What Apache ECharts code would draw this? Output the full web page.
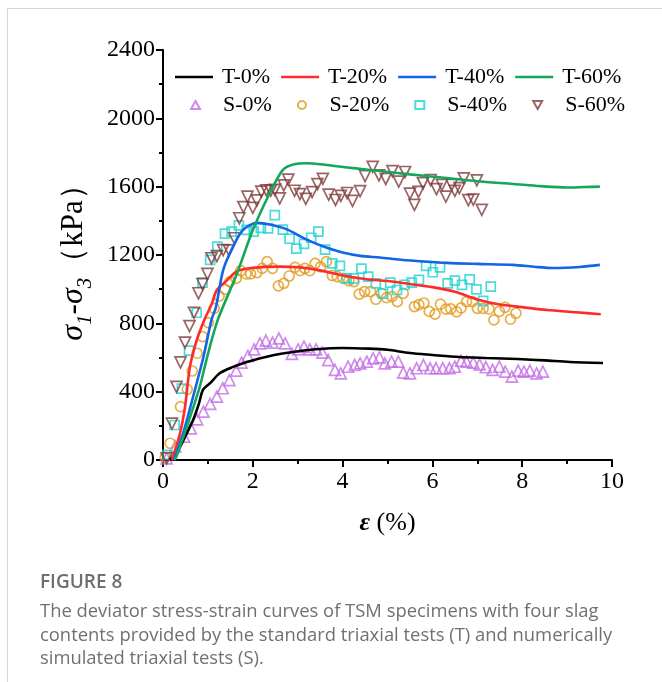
<!DOCTYPE html>
<html><head><meta charset="utf-8">
<script src="https://cdn.jsdelivr.net/npm/echarts@6/dist/echarts.min.js"></script>
<style>
html,body{margin:0;padding:0;background:#fff;width:662px;height:682px;overflow:hidden;}
#card{position:absolute;left:7px;top:8px;width:670px;height:700px;border-top:1.5px solid #d6d6d6;border-left:1.5px solid #d6d6d6;}
#chart{position:absolute;left:0;top:0;width:662px;height:682px;}
#fig{position:absolute;left:40px;top:568px;font-family:'Open Sans';font-weight:600;font-size:19px;color:#6e6e6e;}
#cap{position:absolute;left:40px;top:598px;width:640px;white-space:nowrap;font-family:'Open Sans';font-size:18.4px;line-height:23.7px;color:#707070;}
</style></head>
<body>
<div id="card"></div>
<div id="chart"></div>
<div id="fig">FIGURE 8</div>
<div id="cap">The deviator stress-strain curves of TSM specimens with four slag<br>contents provided by the standard triaxial tests (T) and numerically<br>simulated triaxial tests (S).</div>
<script>
// ---- data (strain %, deviator stress kPa) ----
const xTicks = [0, 2, 4, 6, 8, 10];
const yTicks = [0, 400, 800, 1200, 1600, 2000, 2400];

const t0x = [0.15,0.3,0.5,0.67,0.8,0.89,1.05,1.27,1.56,1.87,2.38,2.9,3.4,4.0,4.6,5.0,5.5,6.0,6.6,7.2,7.9,8.5,9.06,9.8];
const t0y = [0,40,140,234,330,410,450,509,545,574,609,632,648,656,652,645,626,615,603,597,591,583,574,568];

const t20x = [0.2,0.38,0.49,0.6,0.75,0.92,1.08,1.2,1.42,1.65,2.0,2.6,3.0,3.5,4.0,4.54,5.0,5.5,6.0,6.5,7.0,7.5,8.0,8.55,9.2,9.75];
const t20y = [0,158,310,545,700,820,910,995,1050,1105,1125,1132,1128,1110,1080,1058,1048,1030,1012,985,940,910,895,878,865,853];

const t40x = [0.25,0.3,0.45,0.67,0.9,1.08,1.18,1.34,1.56,1.78,2.09,2.38,2.76,3.2,3.65,4.0,4.39,4.83,5.3,5.8,6.32,7.0,7.8,8.3,8.69,9.28,9.73];
const t40y = [0,41,158,370,603,820,896,1112,1249,1346,1388,1378,1350,1290,1242,1215,1195,1185,1172,1162,1154,1148,1142,1130,1124,1130,1142];

const t60x = [0.25,0.3,0.53,0.82,1.0,1.22,1.65,2.0,2.38,2.67,2.9,3.2,3.65,4.2,4.83,5.5,6.32,7.0,7.8,8.4,9.0,9.4,9.73];
const t60y = [0,20,195,430,620,820,1093,1346,1563,1698,1730,1737,1727,1710,1692,1672,1651,1632,1616,1603,1595,1598,1600];

const s0x = [0.08,0.27,0.47,0.62,0.76,0.9,1.05,1.2,1.33,1.48,1.63,1.75,1.89,2.03,2.16,2.29,2.44,2.58,2.72,2.87,3.01,3.14,3.27,3.41,3.55,3.68,3.83,3.96,4.12,4.27,4.39,4.54,4.68,4.82,4.94,5.09,5.24,5.35,5.5,5.65,5.8,5.95,6.08,6.23,6.38,6.5,6.64,6.76,6.91,7.05,7.19,7.34,7.49,7.62,7.77,7.91,8.04,8.17,8.32,8.46];
const s0y = [10,78,137,185,238,283,328,371,420,468,523,570,609,648,683,699,687,712,683,621,648,663,648,648,628,585,527,507,546,556,566,576,595,601,566,576,576,511,507,537,556,537,537,537,537,546,581,576,570,560,543,527,546,517,488,523,517,523,507,517];

const s20x = [0.05,0.16,0.39,0.54,0.65,0.76,0.88,1.01,1.14,1.25,1.38,1.49,1.63,1.73,1.85,1.95,2.09,2.21,2.32,2.44,2.57,2.69,2.81,2.94,3.05,3.16,3.27,3.39,3.51,3.64,3.77,3.88,4.01,4.14,4.25,4.37,4.49,4.62,4.74,4.86,4.98,5.1,5.22,5.35,5.6,5.7,5.81,5.93,6.06,6.18,6.3,6.41,6.54,6.64,6.76,6.89,7.0,7.13,7.26,7.37,7.49,7.62,7.74,7.86];
const s20y = [15,98,312,414,521,625,722,804,888,960,999,1044,1063,1108,1089,1089,1097,1122,1161,1122,1019,1034,1077,1128,1108,1122,1108,1151,1130,1161,1080,1073,1063,1050,1044,971,986,986,941,976,950,956,927,976,898,910,919,870,854,912,883,885,867,890,927,927,888,887,884,820,870,894,824,859];

const s40x = [0.1,0.26,0.42,0.58,0.75,0.88,1.05,1.21,1.38,1.53,1.69,1.86,2.02,2.18,2.34,2.49,2.67,2.82,2.97,3.14,3.3,3.46,3.61,3.77,3.94,4.09,4.25,4.42,4.57,4.74,4.9,5.06,5.21,5.38,5.54,5.7,5.86,6.01,6.17,6.34,6.5,6.66,6.83,6.98,7.13,7.3];
const s40y = [30,205,418,640,862,1038,1171,1249,1325,1337,1373,1347,1337,1359,1356,1434,1349,1295,1237,1265,1301,1337,1231,1151,1136,1063,1063,1120,1073,1034,974,1038,995,1026,1038,1054,1136,1099,1128,1034,1050,1025,1057,999,931,1015];

const s60x = [0.08,0.2,0.3,0.39,0.49,0.59,0.69,0.79,0.88,0.99,1.08,1.2,1.34,1.47,1.59,1.7,1.79,1.88,2.0,2.09,2.19,2.3,2.4,2.49,2.6,2.69,2.79,2.93,3.05,3.18,3.32,3.44,3.56,3.69,3.84,3.96,4.1,4.22,4.39,4.5,4.67,4.81,4.96,5.11,5.25,5.39,5.5,5.6,5.69,5.79,5.96,6.09,6.21,6.3,6.43,6.5,6.6,6.7,6.8,6.91,6.99,7.1];
const s60y = [10,213,428,572,687,784,862,976,1030,1089,1181,1194,1229,1227,1298,1415,1480,1542,1476,1520,1571,1579,1577,1581,1532,1607,1641,1576,1556,1529,1568,1615,1646,1553,1522,1546,1563,1517,1574,1662,1716,1666,1645,1691,1630,1686,1559,1493,1569,1620,1639,1586,1610,1542,1610,1575,1592,1649,1521,1524,1637,1464];

const zip = (a, b) => a.map((v, i) => [v, b[i]]);
const serif = 'Liberation Serif';
const downTri = 'path://M0,0L10,0L5,8.66Z';

const lineS = (name, xs, ys, color) => ({
  name, type: 'line', data: zip(xs, ys), symbol: 'none', showSymbol: false, smooth: 0.3,
  lineStyle: { color, width: 2.6 }, itemStyle: { color }, z: 3
});
const scatS = (name, xs, ys, color, symbol, size, rot) => ({
  name, type: 'scatter', data: zip(xs, ys), symbol, symbolSize: size, symbolRotate: rot || 0,
  itemStyle: { color: 'rgba(255,255,255,0)', borderColor: color, borderWidth: 1.7 }, z: 2
});

const chart = echarts.init(document.getElementById('chart'), null, { renderer: 'canvas' });
chart.setOption({
  animation: false,
  backgroundColor: 'transparent',
  grid: { left: 163, right: 50, top: 50, bottom: 222 },
  legend: [
    { data: ['T-0%', 'T-20%', 'T-40%', 'T-60%'], icon: 'rect', left: 170, top: 61, itemWidth: 38, itemHeight: 2.6, itemGap: 11,
      textStyle: { fontFamily: serif, fontSize: 22, color: '#000', padding: [0, 0, 0, 4] } },
    { data: ['S-0%', 'S-20%', 'S-40%', { name: 'S-60%', icon: downTri }], left: 185, top: 89, itemWidth: 9, itemHeight: 8, itemGap: 25,
      textStyle: { fontFamily: serif, fontSize: 22, color: '#000', padding: [0, 0, 0, 18] } }
  ],
  xAxis: {
    type: 'value', min: 0, max: 10, interval: 2,
    name: '{e|ε}{n| (%)}', nameLocation: 'middle', nameGap: 50,
    nameTextStyle: { rich: { e: { fontFamily: serif, fontSize: 26, fontStyle: 'italic', fontWeight: 'bold', color: '#000' },
                             n: { fontFamily: serif, fontSize: 26, color: '#000' } } },
    axisLine: { lineStyle: { color: '#000', width: 2 } },
    axisTick: { inside: false, length: 7, lineStyle: { width: 2, color: '#000' } },
    minorTick: { show: true, splitNumber: 2, length: 4, lineStyle: { width: 2, color: '#000' } },
    splitLine: { show: false },
    axisLabel: { fontFamily: serif, fontSize: 24, color: '#000', margin: 10, formatter: v => String(v) }
  },
  yAxis: {
    type: 'value', min: 0, max: 2400, interval: 400,
    name: '{s|σ}{b|1}{n|-}{s|σ}{b|3}{n|（kPa）}', nameLocation: 'middle', nameGap: 62,
    nameTextStyle: { rich: {
      s: { fontFamily: serif, fontSize: 32, fontStyle: 'italic', color: '#000', lineHeight: 36, verticalAlign: 'bottom' },
      b: { fontFamily: serif, fontSize: 21, fontStyle: 'italic', color: '#000', lineHeight: 36, verticalAlign: 'bottom', padding: [0, 0, -7, 0] },
      n: { fontFamily: serif, fontSize: 31, color: '#000', lineHeight: 36, verticalAlign: 'bottom' } } },
    axisLine: { show: true, lineStyle: { color: '#000', width: 2 } },
    axisTick: { show: true, inside: false, length: 7, lineStyle: { width: 2, color: '#000' } },
    minorTick: { show: true, splitNumber: 2, length: 4, lineStyle: { width: 2, color: '#000' } },
    splitLine: { show: false },
    axisLabel: { fontFamily: serif, fontSize: 24, color: '#000', margin: 8, formatter: v => String(v) }
  },
  series: [
    lineS('T-0%', t0x, t0y, '#000000'),
    lineS('T-20%', t20x, t20y, '#ff2a2a'),
    lineS('T-40%', t40x, t40y, '#1464e6'),
    lineS('T-60%', t60x, t60y, '#12a85a'),
    scatS('S-0%', s0x, s0y, '#c26ee6', 'triangle', 11),
    scatS('S-20%', s20x, s20y, '#e09a1c', 'circle', 10),
    scatS('S-40%', s40x, s40y, '#1ed2d2', 'rect', 9),
    scatS('S-60%', s60x, s60y, '#7f3c3c', 'triangle', 11, 180)
  ]
});
</script>
</body></html>
